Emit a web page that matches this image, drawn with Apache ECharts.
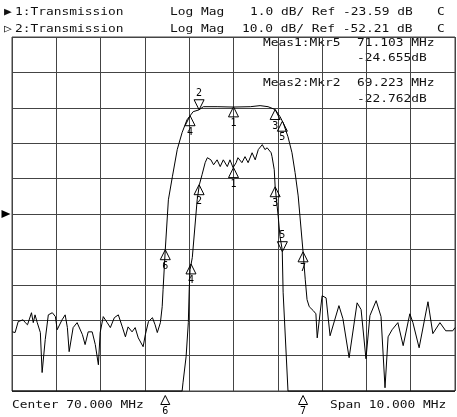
<!DOCTYPE html>
<html>
<head>
<meta charset="utf-8">
<script src="https://cdn.jsdelivr.net/npm/echarts@6/dist/echarts.min.js"></script>
<style>
html,body{margin:0;padding:0;background:#fff;}
#chart{width:457px;height:417px;}
</style>
</head>
<body>
<div id="chart"></div>
<script>
// Frequency axis (MHz)
const centerMHz = 70.0;
const spanMHz = 10.0;
const freqMin = 65, freqMax = 75;

// Trace 1: Log Mag 1.0 dB/div, Ref -23.59 dB (ref at centre line)
const t1Ref = -23.59, t1Scale = 1.0;
const t1Freq = [65.00, 68.84, 68.86, 68.93, 68.98, 69.00, 69.02, 69.07, 69.18, 69.23, 69.29, 69.36, 69.41, 69.49, 69.55, 69.63, 69.70, 69.77, 69.86, 69.92, 69.99, 70.06, 70.10, 70.19, 70.26, 70.33, 70.42, 70.49, 70.56, 70.65, 70.71, 70.76, 70.85, 70.87, 70.92, 70.94, 71.01, 71.05, 71.10, 71.12, 71.23, 75.00];
const t1Mag  = [-28.59, -28.59, -28.36, -27.62, -26.66, -25.73, -25.16, -24.82, -23.19, -22.76, -22.48, -22.14, -22.00, -22.06, -22.20, -22.06, -22.25, -22.06, -22.25, -22.06, -22.28, -22.14, -22.00, -22.14, -21.97, -22.14, -21.86, -22.06, -21.77, -21.63, -21.77, -21.72, -21.86, -21.97, -22.34, -22.82, -23.67, -24.23, -24.60, -25.80, -28.59, -28.59];

// Trace 2: Log Mag 10.0 dB/div, Ref -52.21 dB
const t2Ref = -52.21, t2Scale = 10.0;
const t2Freq = [65.01, 65.07, 65.14, 65.25, 65.30, 65.35, 65.44, 65.48, 65.52, 65.57, 65.64, 65.68, 65.75, 65.82, 65.91, 65.98, 66.02, 66.13, 66.20, 66.25, 66.29, 66.38, 66.47, 66.59, 66.65, 66.72, 66.81, 66.88, 66.95, 66.99, 67.06, 67.15, 67.22, 67.31, 67.40, 67.49, 67.56, 67.62, 67.71, 67.78, 67.85, 67.96, 68.01, 68.08, 68.17, 68.23, 68.28, 68.35, 68.39, 68.41, 68.46, 68.53, 68.62, 68.73, 68.84, 68.95, 69.09, 69.22, 69.32, 69.63, 69.99, 70.38, 70.60, 70.78, 70.94, 71.05, 71.12, 71.23, 71.32, 71.39, 71.46, 71.57, 71.62, 71.66, 71.71, 71.80, 71.86, 71.89, 72.00, 72.09, 72.18, 72.38, 72.47, 72.61, 72.79, 72.88, 72.99, 73.08, 73.22, 73.33, 73.42, 73.49, 73.58, 73.71, 73.83, 73.98, 74.05, 74.19, 74.39, 74.50, 74.66, 74.79, 74.95, 75.00];
const t2Mag  = [-85.5, -85.7, -82.6, -82.1, -82.9, -83.5, -80.1, -82.9, -80.7, -82.9, -85.7, -97.0, -87.7, -80.7, -80.1, -81.2, -84.9, -82.1, -80.7, -84.3, -91.1, -84.3, -82.9, -86.3, -89.1, -85.5, -85.5, -89.1, -94.8, -85.7, -81.2, -82.9, -84.3, -81.5, -80.7, -84.1, -86.9, -84.1, -85.5, -84.3, -87.2, -89.7, -86.3, -82.6, -81.5, -83.5, -85.7, -82.9, -78.4, -73.6, -62.3, -48.2, -41.7, -34.0, -29.2, -25.6, -23.3, -22.8, -21.9, -21.9, -22.0, -21.9, -21.6, -21.9, -22.7, -24.7, -26.4, -30.4, -34.9, -40.5, -47.1, -62.9, -70.8, -76.4, -78.4, -79.5, -80.4, -87.2, -75.3, -75.9, -86.6, -78.1, -81.8, -92.8, -77.3, -79.2, -93.1, -80.9, -76.7, -81.2, -101.3, -86.9, -84.9, -82.9, -89.4, -80.4, -82.9, -90.0, -77.0, -86.0, -82.9, -85.2, -85.2, -84.3];

// Markers (number, freq MHz, value dB, active?)
const t1MkrNum  = ['1', '2', '3', '4', '5', '6', '7'];
const t1MkrFreq = [70.00, 69.223, 70.94, 69.04, 71.103, 68.46, 71.57];
const t1MkrVal  = [-22.28, -22.762, -22.82, -25.00, -24.655, -28.59, -28.59];
const t1MkrActive = '5';
const t1MkrOffLow = ['6', '7'];

const t2MkrNum  = ['1', '2', '3', '4', '5', '6', '7'];
const t2MkrFreq = [70.00, 69.223, 70.94, 69.02, 71.103, 68.46, 71.57];
const t2MkrVal  = [-21.95, -22.762, -22.7, -24.45, -26.0, -62.3, -62.9];
const t2MkrActive = '2';

// Annotation texts
const header1 = ['1:Transmission', 'Log Mag', '1.0 dB/ Ref -23.59 dB', 'C'];
const header2 = ['2:Transmission', 'Log Mag', '10.0 dB/ Ref -52.21 dB', 'C'];
const meas1 = ['Meas1:Mkr5', '71.103 MHz', '-24.655dB'];
const meas2 = ['Meas2:Mkr2', '69.223 MHz', '-22.762dB'];
const footer = ['Center 70.000 MHz', 'Span 10.000 MHz'];

const GRID = {left: 12, top: 37, width: 443, height: 354};
const FONT = '11px "DejaVu Sans Mono"';
const INK = '#000';
const TXT = '#111';
const GRIDC = '#444';

function zip(a, b) { return a.map((v, i) => [v, b[i]]); }

function markers(nums, freqs, vals, active, offLow) {
  offLow = offLow || [];
  return nums.map((n, i) => {
    const isActive = n === active;
    const low = offLow.indexOf(n) >= 0;
    return {
      coord: [freqs[i], vals[i]],
      symbol: 'triangle',
      symbolSize: low ? [9, 9] : [10, 10],
      symbolRotate: isActive ? 180 : 0,
      symbolOffset: low ? [0, 9] : (isActive ? [0, -5] : [0, 5]),
      itemStyle: {color: 'rgba(0,0,0,0)', borderColor: INK, borderWidth: 1},
      label: {
        show: true, formatter: n, position: isActive ? 'top' : 'bottom',
        distance: 1, color: INK, fontFamily: 'DejaVu Sans Mono', fontSize: 10
      }
    };
  });
}

function txt(x, y, s) {
  return {type: 'text', x: x, y: y, scaleX: 1.17, silent: true,
    style: {text: s, font: FONT, fill: TXT, verticalAlign: 'middle', align: 'left'}};
}

const chart = echarts.init(document.getElementById('chart'), null, {renderer: 'canvas'});
chart.setOption({
  animation: false,
  backgroundColor: '#fff',
  grid: Object.assign({show: true, borderColor: GRIDC, borderWidth: 1, backgroundColor: '#fff'}, GRID),
  xAxis: {
    type: 'value', min: freqMin, max: freqMax, interval: spanMHz / 10,
    axisLabel: {show: false}, axisTick: {show: false},
    axisLine: {show: false},
    splitLine: {show: true, lineStyle: {color: GRIDC, width: 1}}
  },
  yAxis: [
    {type: 'value', min: 0, max: 10, interval: 1, axisLabel: {show: false}, axisTick: {show: false},
     axisLine: {show: false}, splitLine: {show: true, lineStyle: {color: GRIDC, width: 1}}},
    {type: 'value', min: t1Ref - 5 * t1Scale, max: t1Ref + 5 * t1Scale, show: false, splitLine: {show: false}},
    {type: 'value', min: t2Ref - 5 * t2Scale, max: t2Ref + 5 * t2Scale, show: false, splitLine: {show: false}}
  ],
  series: [
    {
      type: 'line', name: 'Trace 1', yAxisIndex: 1, data: zip(t1Freq, t1Mag),
      showSymbol: false, symbol: 'none', clip: false,
      lineStyle: {color: INK, width: 1}, z: 3,
      markPoint: {
        silent: true,
        data: markers(t1MkrNum, t1MkrFreq, t1MkrVal, t1MkrActive, t1MkrOffLow).concat([{
          coord: [freqMin, t1Ref], symbol: 'triangle', symbolSize: [8, 9], symbolRotate: -90,
          symbolOffset: [-6, 0], itemStyle: {color: INK}, label: {show: false}
        }])
      }
    },
    {
      type: 'line', name: 'Trace 2', yAxisIndex: 2, data: zip(t2Freq, t2Mag),
      showSymbol: false, symbol: 'none', clip: true,
      lineStyle: {color: INK, width: 1}, z: 3,
      markPoint: {silent: true, data: markers(t2MkrNum, t2MkrFreq, t2MkrVal, t2MkrActive)}
    }
  ],
  graphic: [
    txt(4, 12, '\u25B6'), txt(15, 12, header1[0]), txt(170, 12, header1[1]), txt(250, 12, header1[2]), txt(437, 12, header1[3]),
    txt(4, 29, '\u25B7'), txt(15, 29, header2[0]), txt(170, 29, header2[1]), txt(242, 29, header2[2]), txt(437, 29, header2[3]),
    txt(263, 43, meas1[0]), txt(357, 43, meas1[1]), txt(357, 58, meas1[2]),
    txt(263, 83, meas2[0]), txt(357, 83, meas2[1]), txt(357, 99, meas2[2]),
    txt(12, 405, footer[0]), txt(330, 405, footer[1])
  ]
});
</script>
</body>
</html>
